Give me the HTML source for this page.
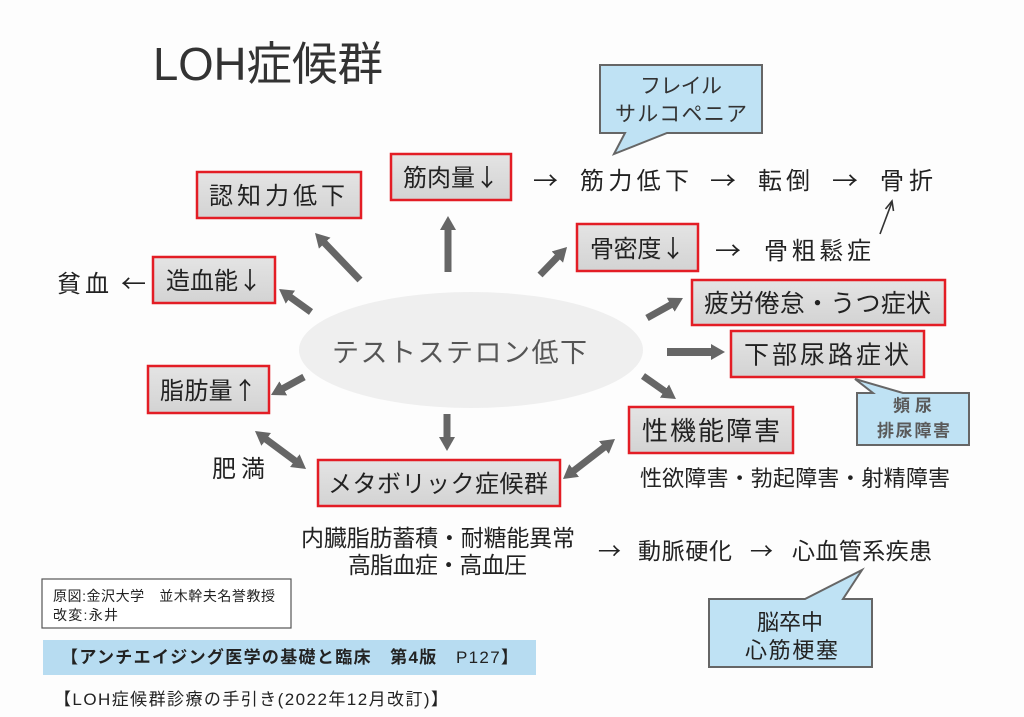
<!DOCTYPE html>
<html>
<head>
<meta charset="utf-8">
<style>
  html,body{margin:0;padding:0;background:#fdfdfd;}
  body{width:1024px;height:717px;overflow:hidden;}
  svg{display:block;}
  text{font-family:"Liberation Sans","Noto Sans CJK JP",sans-serif;fill:#222;}
  .cj{font-family:"Noto Sans CJK JP",sans-serif;}
</style>
</head>
<body>
<svg width="1024" height="717" viewBox="0 0 1024 717" xmlns="http://www.w3.org/2000/svg">
  <defs>
    <linearGradient id="boxg" x1="0" y1="0" x2="0" y2="1">
      <stop offset="0" stop-color="#e4e4e4"/>
      <stop offset="1" stop-color="#d3d3d3"/>
    </linearGradient>
    <marker id="ah" markerUnits="userSpaceOnUse" markerWidth="14" markerHeight="16" viewBox="0 0 14 16" refX="1" refY="8" orient="auto">
      <path d="M0,0 L14,8 L0,16 z" fill="#666"/>
    </marker>
    <marker id="ahs" markerUnits="userSpaceOnUse" markerWidth="14" markerHeight="16" viewBox="0 0 14 16" refX="1" refY="8" orient="auto-start-reverse">
      <path d="M0,0 L14,8 L0,16 z" fill="#666"/>
    </marker>
  </defs>

  <rect x="0" y="0" width="1024" height="717" fill="#fdfdfd"/>

  <!-- Title -->
  <text x="153" y="80" font-size="46" textLength="230" lengthAdjust="spacingAndGlyphs" style="fill:#333">LOH症候群</text>

  <!-- central ellipse -->
  <ellipse cx="471" cy="350" rx="172" ry="58" fill="#efefef"/>
  <text x="332" y="362" font-size="27" textLength="255" lengthAdjust="spacing" style="fill:#555">テストステロン低下</text>

  <!-- thick arrows -->
  <g stroke="#666" stroke-width="7" fill="none">
    <line x1="360" y1="280" x2="324" y2="242.4" marker-end="url(#ah)"/>
    <line x1="448" y1="272" x2="448" y2="229" marker-end="url(#ah)"/>
    <line x1="540" y1="275" x2="558" y2="256.4" marker-end="url(#ah)"/>
    <line x1="311" y1="312" x2="289.6" y2="296.6" marker-end="url(#ah)"/>
    <line x1="304" y1="377" x2="282.4" y2="388.8" marker-end="url(#ah)"/>
    <line x1="447" y1="414" x2="447" y2="438" marker-end="url(#ah)"/>
    <line x1="265.4" y1="438.8" x2="295.6" y2="461.2" marker-start="url(#ahs)" marker-end="url(#ah)"/>
    <line x1="573.3" y1="471.1" x2="604.7" y2="446.9" marker-start="url(#ahs)" marker-end="url(#ah)"/>
    <line x1="647" y1="318" x2="671.6" y2="304.3" marker-end="url(#ah)"/>
    <line x1="667" y1="352" x2="712" y2="352" stroke-width="8" marker-end="url(#ah)"/>
    <line x1="643" y1="376" x2="665.3" y2="391.6" marker-end="url(#ah)"/>
  </g>

  <!-- red boxes -->
  <g fill="url(#boxg)" stroke="#e31d25" stroke-width="2.5">
    <rect x="197" y="172" width="164" height="46"/>
    <rect x="391" y="154" width="120" height="46"/>
    <rect x="153" y="257" width="122" height="46"/>
    <rect x="577" y="224" width="121" height="47"/>
    <rect x="692" y="280" width="253" height="45"/>
    <rect x="731" y="331" width="193" height="46"/>
    <rect x="629" y="407" width="164" height="46"/>
    <rect x="148" y="366" width="121" height="47"/>
    <rect x="318" y="460" width="242" height="46"/>
  </g>
  <text x="209" y="204" font-size="24" textLength="136" lengthAdjust="spacing">認知力低下</text>
  <text x="403" y="186" font-size="24" class="cj" textLength="96" lengthAdjust="spacing">筋肉量↓</text>
  <text x="166" y="289" font-size="24" class="cj" textLength="96" lengthAdjust="spacing">造血能↓</text>
  <text x="590" y="257" font-size="24" class="cj" textLength="95" lengthAdjust="spacing">骨密度↓</text>
  <text x="704" y="312" font-size="25" textLength="227" lengthAdjust="spacing">疲労倦怠・うつ症状</text>
  <text x="744" y="363.5" font-size="25" textLength="165" lengthAdjust="spacing">下部尿路症状</text>
  <text x="642" y="440" font-size="26" textLength="138" lengthAdjust="spacing">性機能障害</text>
  <text x="160" y="399" font-size="24" class="cj" textLength="97" lengthAdjust="spacing">脂肪量↑</text>
  <text x="328" y="492" font-size="24" textLength="220" lengthAdjust="spacing">メタボリック症候群</text>

  <!-- free text -->
  <text x="533" y="189" font-size="24" class="cj" textLength="25" lengthAdjust="spacingAndGlyphs">→</text>
  <text x="580" y="189" font-size="24" textLength="109" lengthAdjust="spacing">筋力低下</text>
  <text x="710" y="189" font-size="24" class="cj" textLength="26" lengthAdjust="spacingAndGlyphs">→</text>
  <text x="758" y="189" font-size="24" textLength="52" lengthAdjust="spacing">転倒</text>
  <text x="832" y="189" font-size="24" class="cj" textLength="26" lengthAdjust="spacingAndGlyphs">→</text>
  <text x="880" y="189" font-size="24" textLength="53" lengthAdjust="spacing">骨折</text>

  <text x="715" y="259" font-size="24" class="cj" textLength="26" lengthAdjust="spacingAndGlyphs">→</text>
  <text x="764" y="259" font-size="24" textLength="107" lengthAdjust="spacing">骨粗鬆症</text>
  <g stroke="#333" stroke-width="1.6" fill="none">
    <line x1="880" y1="234" x2="892" y2="202"/>
    <polyline points="885.5,209 892,201 893.5,211"/>
  </g>

  <text x="57" y="292" font-size="24" textLength="52" lengthAdjust="spacing">貧血</text>
  <text x="121" y="292" font-size="24" class="cj" textLength="25" lengthAdjust="spacingAndGlyphs">←</text>

  <text x="212" y="477" font-size="24" textLength="53" lengthAdjust="spacing">肥満</text>

  <text x="640" y="486" font-size="22" textLength="310" lengthAdjust="spacing">性欲障害・勃起障害・射精障害</text>

  <text x="301" y="546" font-size="23" textLength="274" lengthAdjust="spacing">内臓脂肪蓄積・耐糖能異常</text>
  <text x="348" y="573" font-size="23" textLength="179" lengthAdjust="spacing">高脂血症・高血圧</text>

  <text x="598" y="559" font-size="23" class="cj" textLength="23" lengthAdjust="spacingAndGlyphs">→</text>
  <text x="638" y="559" font-size="23" textLength="94" lengthAdjust="spacing">動脈硬化</text>
  <text x="750" y="559" font-size="23" class="cj" textLength="23" lengthAdjust="spacingAndGlyphs">→</text>
  <text x="792" y="559" font-size="23" textLength="140" lengthAdjust="spacing">心血管系疾患</text>

  <!-- callouts -->
  <g fill="#bfe2f4" stroke="#666" stroke-width="2">
    <path d="M600,65 H762 V133 H667 L614,154 L625,133 H600 Z"/>
    <path d="M857,393 H873 L855,379 L903,393 H969 V445 H857 Z"/>
    <path d="M709,599 H805 L862,570 L843,599 H872 V667 H709 Z"/>
  </g>
  <text x="640" y="93" font-size="21" textLength="82" lengthAdjust="spacing" style="fill:#333">フレイル</text>
  <text x="615" y="121" font-size="21" textLength="132" lengthAdjust="spacing" style="fill:#333">サルコペニア</text>
  <text x="893" y="411.5" font-size="17" font-weight="bold" textLength="39" lengthAdjust="spacing" style="fill:#5a5a5a">頻尿</text>
  <text x="877" y="436.5" font-size="17" font-weight="bold" textLength="73" lengthAdjust="spacing" style="fill:#5a5a5a">排尿障害</text>
  <text x="757" y="630" font-size="22" textLength="66" lengthAdjust="spacing">脳卒中</text>
  <text x="745" y="658" font-size="22" textLength="93" lengthAdjust="spacing">心筋梗塞</text>

  <!-- source box -->
  <rect x="42" y="579" width="249" height="49" fill="#fff" stroke="#555" stroke-width="1.2"/>
  <text x="53" y="601" font-size="14" textLength="222" lengthAdjust="spacing">原図:金沢大学　並木幹夫名誉教授</text>
  <text x="53" y="620" font-size="14" textLength="65" lengthAdjust="spacing">改変:永井</text>

  <rect x="43" y="640" width="493" height="35" fill="#b7dcf1"/>
  <text x="61" y="663" font-size="17" textLength="457" lengthAdjust="spacing"><tspan font-weight="bold">【アンチエイジング医学の基礎と臨床　第4版　</tspan>P127<tspan font-weight="bold">】</tspan></text>

  <text x="54" y="705" font-size="17" textLength="394" lengthAdjust="spacing">【LOH症候群診療の手引き(2022年12月改訂)】</text>
</svg>
</body>
</html>
